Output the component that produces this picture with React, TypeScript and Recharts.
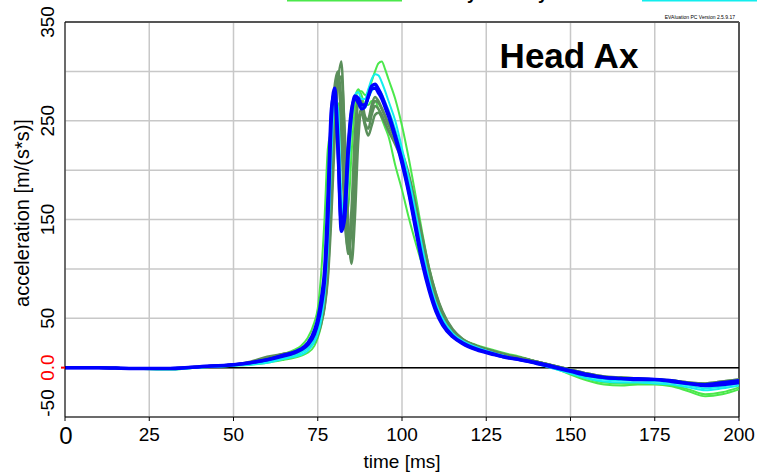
import { LineChart, Line, XAxis, YAxis, CartesianGrid, ReferenceLine } from "recharts";

const time = [
  0, 10, 20, 30, 40, 50, 55, 60, 65, 68, 70, 72, 74, 75, 76, 77, 78, 79, 80, 81, 82, 83, 84, 85, 86, 87, 88, 89, 90, 91,
  92, 93, 94, 95, 96, 98, 100, 102, 104, 106, 108, 110, 112, 115, 118, 122, 126, 130, 135, 140, 145, 150, 155, 160, 165,
  170, 175, 180, 185, 190, 195, 200,
];

const blue1 = [
  0, 0, -1, -1, 1, 3, 5, 8, 12, 15, 18, 23, 34, 45, 62, 88, 150, 250, 283, 228,
  138, 152, 215, 256, 275, 273, 266, 266, 275, 285, 287, 282, 275, 266, 257,
  235, 210, 180, 145, 110, 82, 60, 45, 32, 25, 19, 15, 11, 8, 5,
  1, -3, -7, -10, -11, -12, -12, -14, -16, -18, -17, -15,
];
const blue2 = [
  0, 0, -1, -1, 1, 3, 5, 8, 13, 16, 19, 25, 38, 50, 70, 100, 175, 262, 278, 215,
  145, 165, 225, 262, 272, 268, 262, 264, 274, 282, 283, 278, 272, 263, 254,
  232, 206, 176, 140, 105, 78, 57, 43, 31, 24, 18, 14, 11, 8, 4,
  0, -4, -8, -10, -11, -11, -12, -13, -16, -17, -15, -13,
];
const cyan1 = [
  0, 0, -1, -2, 0, 2, 3, 5, 9, 11, 13, 17, 26, 34, 48, 72, 120, 210, 272, 262,
  175, 150, 195, 248, 276, 279, 272, 272, 282, 292, 297, 296, 289, 280, 270,
  250, 222, 192, 158, 122, 90, 66, 50, 35, 27, 21, 16, 12, 8, 4,
  -1, -6, -11, -14, -15, -15, -16, -17, -20, -23, -21, -18,
];
const cyan2 = [
  0, 0, -1, -1, 1, 2, 4, 6, 10, 12, 15, 20, 30, 40, 56, 82, 140, 235, 280, 250,
  160, 148, 205, 252, 272, 272, 265, 263, 272, 280, 284, 282, 277, 269, 261,
  241, 216, 186, 152, 116, 86, 63, 48, 34, 26, 20, 16, 12, 8, 4,
  -1, -5, -9, -12, -13, -13, -14, -15, -18, -21, -19, -16,
];
const lightGreen1 = [
  0, 0, -1, -2, 0, 2, 3, 5, 8, 10, 12, 15, 22, 30, 42, 62, 100, 170, 240, 268,
  230, 170, 160, 215, 262, 280, 280, 276, 280, 290, 300, 308, 310, 302, 292,
  272, 245, 212, 175, 137, 102, 76, 56, 38, 29, 23, 19, 15, 11, 6,
  0, -7, -13, -17, -18, -17, -17, -19, -24, -29, -27, -22,
];
const lightGreen2 = [
  0, 0, -1, -1, 1, 3, 5, 9, 14, 18, 22, 30, 46, 60, 95, 150, 222, 240, 262, 238,
  160, 148, 190, 245, 272, 282, 276, 266, 266, 270, 270, 262, 252, 243, 234,
  205, 180, 152, 127, 104, 82, 63, 48, 35, 27, 22, 18, 14, 10, 6,
  1, -5, -11, -15, -16, -16, -16, -18, -22, -27, -25, -20,
];
const darkGreen1 = [
  0, 0, -1, -1, 1, 3, 5, 9, 13, 15, 17, 21, 28, 35, 46, 62, 95, 165, 245, 290,
  310, 230, 130, 110, 175, 250, 262, 248, 242, 256, 265, 262, 256, 248, 240,
  226, 210, 188, 158, 127, 96, 72, 54, 37, 28, 22, 17, 13, 10, 6,
  2, -2, -6, -9, -10, -11, -12, -13, -15, -16, -14, -12,
];
const darkGreen2 = [
  0, 0, -1, -1, 1, 3, 6, 11, 14, 16, 19, 24, 30, 38, 52, 75, 120, 200, 270, 298,
  270, 170, 115, 140, 215, 268, 270, 255, 250, 262, 270, 268, 262, 254, 246,
  232, 218, 196, 166, 133, 101, 76, 57, 39, 29, 22, 18, 14, 10, 6,
  2, -2, -7, -10, -11, -12, -12, -14, -16, -17, -15, -13,
];
const darkGreen3 = [
  0, 0, -1, -1, 1, 3, 5, 8, 12, 14, 16, 20, 26, 33, 44, 60, 90, 150, 230, 285,
  295, 240, 150, 105, 150, 228, 258, 245, 235, 245, 256, 258, 254, 247, 240,
  228, 214, 192, 163, 131, 99, 74, 56, 38, 28, 22, 17, 13, 10, 6,
  2, -3, -7, -10, -11, -12, -13, -14, -16, -17, -15, -13,
];
const darkGreen4 = [
  0, 0, -1, -1, 1, 3, 5, 9, 14, 16, 18, 23, 32, 42, 58, 85, 140, 225, 285, 300,
  240, 150, 120, 160, 235, 272, 262, 250, 252, 266, 274, 270, 263, 255, 247,
  233, 216, 193, 162, 128, 97, 72, 54, 37, 28, 22, 17, 13, 10, 6,
  2, -2, -6, -9, -10, -11, -12, -13, -15, -16, -14, -12,
];

const xTicks = [0, 25, 50, 75, 100, 125, 150, 175, 200];
const yTicks = [-50, 0, 50, 100, 150, 200, 250, 300, 350];
const yLabelled = [350, 250, 150, 50, -50];

const DARK = "#5b8f5b";
const LIGHT = "#4be84b";
const CYAN = "#12eeee";
const BLUE = "#0000ff";

const series = [
  { key: "lg1", values: lightGreen1, color: LIGHT, width: 2 },
  { key: "lg2", values: lightGreen2, color: LIGHT, width: 2 },
  { key: "dg1", values: darkGreen1, color: DARK, width: 2.5 },
  { key: "dg2", values: darkGreen2, color: DARK, width: 2.5 },
  { key: "dg3", values: darkGreen3, color: DARK, width: 2.5 },
  { key: "dg4", values: darkGreen4, color: DARK, width: 2.5 },
  { key: "c1", values: cyan1, color: CYAN, width: 2 },
  { key: "c2", values: cyan2, color: CYAN, width: 2 },
  { key: "b2", values: blue2, color: BLUE, width: 3 },
  { key: "b1", values: blue1, color: BLUE, width: 3.5 },
];

const data = time.map((t, i) => {
  const row: Record<string, number> = { t };
  series.forEach((s) => (row[s.key] = s.values[i]));
  return row;
});

const FONT = '"Liberation Sans", Arial, sans-serif';

function XTick(props: any) {
  const { x, payload } = props;
  const v = payload.value;
  if (v === 0) {
    return (
      <text x={x + 1} y={444} textAnchor="middle" fontSize={24} fontFamily={FONT} fill="#000">
        0
      </text>
    );
  }
  return (
    <text x={x} y={441} textAnchor="middle" fontSize={19} fontFamily={FONT} fill="#000">
      {v}
    </text>
  );
}

function YTick(props: any) {
  const { y, payload } = props;
  const v = payload.value;
  const cx = 47;
  if (v === 0) {
    return (
      <g>
        <line x1={61} x2={65} y1={y} y2={y} stroke="red" strokeWidth={2} />
        <text x={cx} y={y} transform={`rotate(-90 ${cx} ${y})`} textAnchor="middle" dominantBaseline="central"
          fontSize={19} fontFamily={FONT} fill="red">
          0.0
        </text>
      </g>
    );
  }
  if (!yLabelled.includes(v)) return <g />;
  const cy = v === -50 ? y - 14 : y;
  return (
    <text x={cx} y={cy} transform={`rotate(-90 ${cx} ${cy})`} textAnchor="middle" dominantBaseline="central"
      fontSize={19} fontFamily={FONT} fill="#000">
      {v}
    </text>
  );
}

export default function App() {
  return (
    <div style={{ position: "absolute", left: 0, top: 0, width: 757, height: 474, background: "#fff", overflow: "hidden" }}>
      <LineChart width={757} height={474} data={data} margin={{ top: 22, right: 18, left: 0, bottom: 0 }}>
        <CartesianGrid stroke="#c8c8c8" strokeWidth={1.5} />
        <XAxis type="number" dataKey="t" domain={[0, 200]} ticks={xTicks} height={57} stroke="#000"
          tickSize={4} tick={<XTick />} interval={0} />
        <YAxis type="number" domain={[-50, 350]} ticks={yTicks} width={65} stroke="#000"
          tickLine={false} tick={<YTick />} interval={0} />
        <ReferenceLine y={350} stroke="#555" strokeWidth={2} />
        <ReferenceLine x={200} stroke="#555" strokeWidth={2} />
        <ReferenceLine y={0} stroke="#000" strokeWidth={1.5} />
        {series.map((s) => (
          <Line key={s.key} dataKey={s.key} type="monotone" stroke={s.color} strokeWidth={s.width}
            dot={false} isAnimationActive={false} />
        ))}
      </LineChart>
      <svg width={757} height={474} style={{ position: "absolute", left: 0, top: 0, pointerEvents: "none" }}>
        <line x1={287} x2={402} y1={0} y2={0} stroke={LIGHT} strokeWidth={3} />
        <line x1={642} x2={757} y1={0} y2={0} stroke={CYAN} strokeWidth={3} />
        <text x={411} y={-1} fontSize={18} fontWeight="bold" fontFamily={FONT} fill="#000">Dummy Dummy</text>
        <text x={735} y={19} textAnchor="end" fontSize={5} fontFamily={FONT} fill="#000">EVAluation PC Version 2.5.9.17</text>
        <text x={569} y={68} textAnchor="middle" fontSize={35} fontWeight="bold" fontFamily={FONT} fill="#000">Head Ax</text>
        <text x={22} y={213} transform="rotate(-90 22 213)" textAnchor="middle" dominantBaseline="central"
          fontSize={20} fontFamily={FONT} fill="#000">acceleration [m/(s*s)]</text>
        <text x={402} y={468} textAnchor="middle" fontSize={19} fontFamily={FONT} fill="#000">time [ms]</text>
      </svg>
    </div>
  );
}
